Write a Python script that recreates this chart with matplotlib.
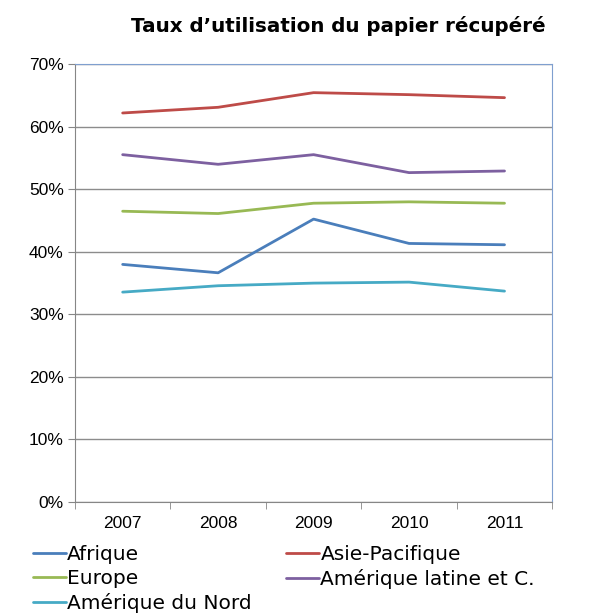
import matplotlib.pyplot as plt
from matplotlib.ticker import FuncFormatter

# Data
years = ['2007', '2008', '2009', '2010', '2011']
afrique = [37.98, 36.64, 45.22, 41.33, 41.12]
asie_pacifique = [62.18, 63.09, 65.43, 65.11, 64.63]
europe = [46.48, 46.11, 47.76, 47.98, 47.76]
amerique_latine = [55.52, 53.98, 55.52, 52.65, 52.91]
amerique_nord = [33.55, 34.57, 34.99, 35.15, 33.71]

series = [
    ('Afrique', afrique, '#4A7EBB'),
    ('Asie-Pacifique', asie_pacifique, '#BE4B48'),
    ('Europe', europe, '#98B954'),
    ('Amérique latine et C.', amerique_latine, '#7D60A0'),
    ('Amérique du Nord', amerique_nord, '#46AAC5'),
]

plt.rcParams['font.family'] = ['Liberation Sans', 'DejaVu Sans']

fig = plt.figure(figsize=(5.9, 6.16), dpi=100)
ax = fig.add_axes([0.127, 0.185, 0.809, 0.711])

x = list(range(len(years)))
lines = {}
for name, vals, color in series:
    ln, = ax.plot(x, [v / 100 for v in vals], color=color, lw=2.0,
                  solid_capstyle='round', label=name)
    lines[name] = ln

ax.set_xlim(-0.5, len(years) - 0.5)
ax.set_ylim(0, 0.7)
ax.set_yticks([i / 10 for i in range(8)])
ax.yaxis.set_major_formatter(FuncFormatter(lambda v, p: f'{round(v * 100)}%'))

# x labels centered, ticks on category boundaries
ax.set_xticks(x)
ax.set_xticklabels(years)
ax.set_xticks([i - 0.5 for i in range(len(years) + 1)], minor=True)
ax.tick_params(axis='x', which='major', length=0, pad=10, labelsize=12.5)
ax.tick_params(axis='x', which='minor', length=5, color='#868686')
ax.tick_params(axis='y', length=5, color='#868686', labelsize=12.5, pad=3)

ax.grid(axis='y', color='#8c8c8c', lw=1.0)
ax.set_axisbelow(True)
for s in ['left', 'bottom']:
    ax.spines[s].set_color('#868686')
for s in ['top', 'right']:
    ax.spines[s].set_color('#7f9fcf')

fig.text(0.573, 0.958, 'Taux d\u2019utilisation du papier récupéré',
         ha='center', va='center', fontsize=14.3, fontweight='bold',
         family=['DejaVu Sans'])

order = ['Afrique', 'Europe', 'Amérique du Nord', 'Asie-Pacifique', 'Amérique latine et C.']
fig.legend([lines[n] for n in order], order, ncol=2, loc='upper left',
           bbox_to_anchor=(0.056, 0.1153), frameon=False,
           prop={'family': 'DejaVu Sans', 'size': 14.5},
           handlelength=1.65, handletextpad=0.05, labelspacing=0.25,
           columnspacing=1.7, borderaxespad=0, borderpad=0)

fig.savefig('out.png', dpi=100)
